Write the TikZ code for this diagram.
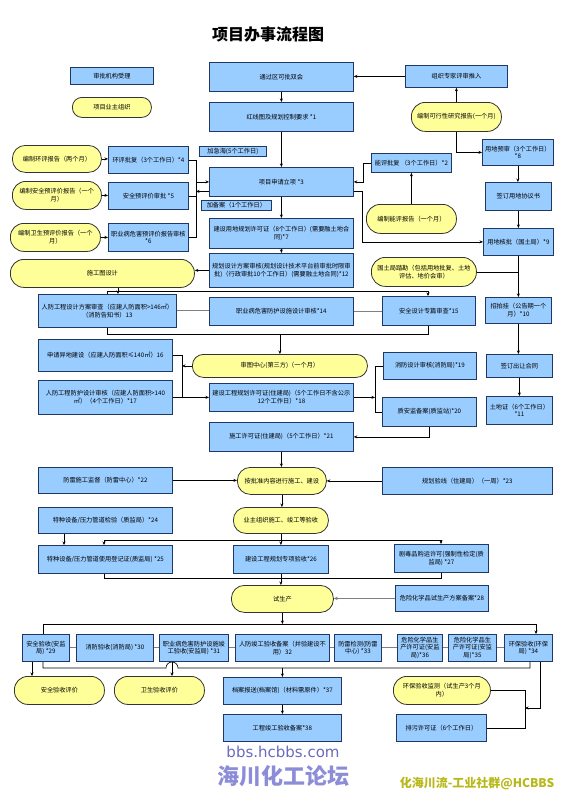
\documentclass[tikz,border=0pt]{standalone}
\usepackage{fontspec}
\setmainfont{Noto Sans CJK SC}
\newfontfamily\latinf{DejaVu Sans}
\XeTeXlinebreaklocale "zh"
\XeTeXlinebreakskip = 0pt plus 0.3pt
\usetikzlibrary{arrows.meta}
\definecolor{bfill}{HTML}{99CCFF}
\definecolor{bdr}{HTML}{1F3864}
\definecolor{yfill}{HTML}{FFFF99}
\definecolor{ydr}{HTML}{333333}
\definecolor{wm}{HTML}{8C8CD8}
\definecolor{wm2}{HTML}{6A6AC0}
\definecolor{wy}{HTML}{B8B818}
\tikzset{
  bb/.style={draw=bdr, fill=bfill, line width=0.8pt, align=flush center, inner sep=1pt,
    font=\fontsize{6.2}{7.6}\selectfont},
  yy/.style={draw=ydr, fill=yfill, line width=0.8pt, align=flush center, inner sep=1pt,
    font=\fontsize{6.2}{7.6}\selectfont},
  ln/.style={draw=black, line width=0.6pt},
  ar/.style={ln, -{Stealth[length=3.5pt,width=3pt]}},
  gl/.style={draw=gray, line width=0.9pt},
  gar/.style={gl, -{Stealth[length=4pt,width=3.5pt]}},
}
\newcommand{\BX}[6]{\node[bb,anchor=north west,minimum width=#4pt,minimum height=#5pt,text width=#4pt-5pt] (#1) at (#2,#3) {#6};}
\newcommand{\YX}[6]{\node[yy,anchor=north west,minimum width=#4pt,minimum height=#5pt,text width=#4pt-10pt,rounded corners=#5*0.48pt] (#1) at (#2,#3) {#6};}
\begin{document}
\begin{tikzpicture}[x=1pt,y=-1pt]
\useasboundingbox[fill=white] (0,0) rectangle (566,800);
\node[font=\fontsize{16}{18}\selectfont\bfseries] (title) at (268,34) {项目办事流程图};
% legend
\BX{leg1}{70}{67}{83}{17}{审批机构受理}
\YX{leg2}{72}{97}{79}{20}{项目业主组织}
% top
\BX{m1}{209}{62}{144}{29}{通过区可批双会}
\BX{m2}{209}{102}{144}{29}{红线图及规划控制要求 *1}
\BX{r0}{405}{65}{102}{22}{组织专家评审推入}
\YX{y0}{411}{102}{90}{29}{编制可行性研究报告(一个月)}
\BX{r8}{482}{139}{71}{26}{用地预审（3个工作日）*8}
% left EIA etc
\BX{l4}{108}{146}{80}{27}{环评批复（3个工作日）*4}
\YX{ly4}{12}{145}{89}{27}{编制环评报告（两个月）}
\BX{l5}{108}{182}{80}{27}{安全预评价审批 *5}
\YX{ly5}{12}{181}{89}{28}{编制安全预评价报告（一个月）}
\BX{l6}{108}{223}{80}{28}{职业病危害预评价报告审核 *6}
\YX{ly6}{10}{223}{90}{28}{编制卫生预评价报告（一个月）}
\BX{tag1}{199}{146}{67}{10}{加急海(5个工作日)}
\BX{m3}{209}{167}{144}{29}{项目申请立项 *3}
\BX{tag2}{201}{200}{70}{10}{加备案（1个工作日）}
\BX{m7}{209}{218}{144}{30}{建设用地规划许可证（8个工作日）(需要融土地合同)*7}
\BX{m12}{209}{253}{144}{34}{规划设计方案审核(规划设计技术平台前审批时限审批)（行政审批10个工作日）(需要融土地合同)*12}
\YX{ys}{10}{259}{184}{28}{施工图设计}
% right upper
\BX{r2}{371}{153}{80}{19}{能评批复 （3个工作日）*2}
\YX{yr2}{366}{204}{90}{29}{编制能评报告（一个月）}
\BX{r8b}{485}{182}{66}{28}{签订用地协议书}
\BX{r9}{483}{228}{70}{27}{用地核批（国土局）*9}
\YX{yr9}{371}{257}{105}{29}{国土局踏勘（包括用地批复、土地评估、地价会审）}
\BX{r10}{485}{297}{66}{26}{招拍挂（公告期一个月）*10}
% row 13-15
\BX{b13}{38}{294}{138}{33}{人防工程设计方案审查（应建人防面积>146㎡）（消防告知书）13}
\BX{b14}{209}{297}{144}{28}{职业病危害防护设施设计审核*14}
\BX{b15}{382}{296}{93}{29}{安全设计专篇审查*15}
% 16-21
\BX{b16}{38}{339}{134}{32}{申请异地建设（应建人防面积≤140㎡）16}
\BX{b17}{38}{380}{134}{34}{人防工程防护设计审核（应建人防面积>140㎡）（4个工作日）*17}
\YX{ysc}{192}{354}{175}{23}{审图中心(第三方)（一个月）}
\BX{m18}{209}{383}{144}{28}{建设工程规划许可证(住建局)（5个工作日不含公示12个工作日）*18}
\BX{b19}{383}{352}{93}{27}{消防设计审核(消防局)*19}
\BX{b20}{382}{397}{94}{29}{质安监备案(质监站)*20}
\BX{r11a}{486}{354}{66}{23}{签订出让合同}
\BX{r11}{486}{396}{66}{28}{土地证（6个工作日）*11}
\BX{m21}{209}{422}{144}{29}{施工许可证(住建局)（5个工作日）*21}
% construction
\BX{b22}{38}{467}{134}{26}{防雷施工监督（防雷中心）*22}
\YX{yb1}{237}{467}{89}{27}{按批准内容进行施工、建设}
\BX{b23}{382}{467}{170}{27}{规划验线（住建局）（一周）*23}
\YX{yc}{233}{507}{95}{26}{业主组织施工、竣工等验收}
\BX{b24}{38}{507}{134}{26}{特种设备/压力管道检验（质监局）*24}
\BX{b25}{38}{545}{134}{28}{特种设备/压力管道使用登记证(质监局) *25}
\BX{b26}{233}{545}{95}{28}{建设工程规划专项验收*26}
\BX{b27}{394}{544}{94}{28}{剧毒品购运许可(强制性检定(质监局) *27}
\YX{ytp}{231}{585}{102}{27}{试生产}
\BX{b28}{395}{585}{93}{26}{危险化学品试生产方案备案*28}
% acceptance row
\BX{b29}{22}{634}{47}{27}{安全验收(安监局) *29}
\BX{b30}{76}{634}{77}{27}{消防验收(消防局) *30}
\BX{b31}{159}{634}{69}{27}{职业病危害防护设施竣工验收(安监局) *31}
\BX{b32}{235}{634}{94}{27}{人防竣工验收备案（并验建设不用）32}
\BX{b33}{334}{634}{47}{27}{防雷检测(防雷中心) *33}
\BX{b36}{397}{634}{45}{27}{危险化学品生产许可证(安监局)*36}
\BX{b35}{448}{634}{48}{27}{危险化学品生产许可证(安监局)*35}
\BX{b34}{504}{634}{48}{27}{环保验收(环保局) *34}
\YX{ya}{14}{676}{90}{28}{安全验收评价}
\YX{yw}{114}{676}{90}{28}{卫生验收评价}
\BX{b37}{223}{677}{118}{27}{档案报送(档案馆)（材料需原件）*37}
\BX{b38}{223}{714}{118}{27}{工程竣工验收备案*38}
\YX{yh}{393}{676}{97}{28}{环保验收监测（试生产3个月内）}
\BX{b39}{396}{714}{90}{27}{排污许可证（6个工作日）}
% coordinates
\coordinate (kx1) at (196,0);
\coordinate (k1) at (107,291); \coordinate (k2) at (428,291);
\coordinate (k3) at (107,334); \coordinate (k4) at (428,334);
\coordinate (kc13) at (118,0);
\coordinate (k5) at (182,0);
\coordinate (k6) at (375,0);
\coordinate (k7) at (64,0);
\coordinate (k8) at (104,540); \coordinate (k9) at (441,540);
\coordinate (k10) at (104,578); \coordinate (k11) at (441,578);
\coordinate (k12) at (43,624); \coordinate (k13) at (536,624);
\coordinate (k14) at (43,668); \coordinate (k15) at (530,668);
\coordinate (kh1) at (166,668); \coordinate (kh2) at (178,668);
\coordinate (k16) at (32,0); \coordinate (k17) at (172,0);
\coordinate (k18) at (540,0); \coordinate (k20) at (525,708);
% connectors top
\draw[ar] (r0.west) -- (m1.east |- r0.west);
\draw[ar] (y0.north) -- (r0.south);
\draw[ar] (y0.south) |- (r8.west);
\draw[ar] (m1.south) -- (m2.north);
\draw[ar] (m2.south) -- (m3.north);
% left bracket
\draw[ln] (l4.east) -- (l4.east -| kx1) -- (l6.east -| kx1) -- (l6.east);
\draw[ln] (l5.east) -- (l5.east -| kx1);
\draw[ar] (m3.west -| kx1) -- (m3.west);
\draw[ar] ([yshift=-9.5pt]m3.west) -- ([yshift=-9.5pt]m3.west -| kx1);
\draw[ar] (ly4.east) -- (l4.west |- ly4.east);
\draw[ar] (ly5.east) -- (l5.west |- ly5.east);
\draw[ar] (ly6.east) -- (l6.west |- ly6.east);
% right upper
\draw[ar] (r2.west) -- ++(-8,0) |- (m3.east);
\draw[ar] ([yshift=-9.5pt]m3.east) -- ++(8,0) |- (r9.west);
\draw[ar] (yr2.north) -- (r2.south);
\draw[ar] (r8.south) -- (r8.south |- r8b.north);
\draw[ar] (r8b.south) -- (r8b.south |- r9.north);
\draw[ar] (r9.south) -- (r9.south |- r10.north);
\draw[ar] (r10.south) -- (r10.south |- r11a.north);
\draw[ar] (r11a.south) -- (r11a.south |- r11.north);
\draw[ln] (yr9.east) -- (r9.south |- yr9.east);
% main column
\draw[ar] (m3.south) -- (m7.north);
\draw[ar] (m7.south) -- (m12.north);
\draw[ar] (m12.west) -- (ys.east |- m12.west);
% row 13-15
\draw[ar] (ys.south -| kc13) -- (b13.north -| kc13);
\draw[ln] (b13.north -| k1) -- (k1) -- (k2);
\draw[ar] (k2) -- (b15.north -| k2);
\draw[gl] (b13.east) -- (b14.west |- b13.east);
\draw[gl] (b14.east) -- (b15.west |- b14.east);
\draw[ln] (b13.south -| k3) -- (k3) -- (k4) -- (b15.south -| k4);
\draw[ar] (ysc.north |- k3) -- (ysc.north);
% 16-18
\draw[ln] (b16.east) -- (b16.east -| k5) -- (b17.east -| k5) -- (b17.east);
\draw[ar] (ysc.west) -- (ysc.west -| k5);
\draw[ar] (b17.east -| k5) -- (m18.west);
\draw[ln] (b19.west) -- (b19.west -| k6) -- (b20.west -| k6) -- (b20.west);
\draw[ar] (m18.east) -- (m18.east -| k6);
\draw[ar] (b20.south) |- (m21.east);
% construction
\draw[ar] (m21.south) -- (m21.south |- yb1.north);
\draw[ar] (b22.east) -- (yb1.west |- b22.east);
\draw[ar] (b23.west) -- (yb1.east |- b23.west);
\draw[ar] (yb1.south) -- (yb1.south |- yc.north);
\draw[ar] (b24.south -| k7) -- (b25.north -| k7);
\draw[ln] (yc.south) -- (yc.south |- k8);
\draw[ln] (k8) -- (k9);
\draw[ar] (k8) -- (b25.north -| k8);
\draw[ar] (k9) -- (b27.north -| k9);
\draw[ar] (yc.south |- k8) -- (b26.north -| yc.south);
\draw[ln] (b25.south -| k10) -- (k10) -- (k11) -- (b27.south -| k11);
\draw[ar] (b26.south) -- (b26.south |- ytp.north);
\draw[gar] (b28.west) -- (ytp.east |- b28.west);
% acceptance
\draw[ar] (ytp.south) -- (ytp.south |- k12);
\draw[ln] (b29.north -| k12) -- (k12) -- (k13);
\draw[ar] (k13) -- (b34.north -| k13);
\draw[gl] (b29.east) -- (b30.west);
\draw[gl] (b30.east) -- (b31.west);
\draw[gl] (b31.east) -- (b32.west);
\draw[gl] (b32.east) -- (b33.west);
\draw[gl] (b33.east) -- (b36.west);
\draw[gl] (b36.east) -- (b35.west);
\draw[gl] (b35.east) -- (b34.west);
\draw[ln] (b29.south -| k14) -- (k14) -- (kh1) arc[start angle=180,end angle=360,radius=6] -- (k15) -- (b34.south -| k15);
\draw[ar] (b37.north |- k14) -- (b37.north);
\draw[ar] (b29.south -| k16) -- (ya.north -| k16);
\draw[ar] (b31.south -| k17) -- (yw.north -| k17);
\draw[ar] (b37.south) -- (b38.north);
\draw[ar] (b34.south -| k18) |- (k20);
\draw[ln] (yh.east) -- (yh.east -| k20) -- (b39.east -| k20) -- (b39.east);
% watermark
\node[font=\latinf\fontsize{15}{16}\selectfont, text=wm2] (wm1) at (283,752) {bbs.hcbbs.com};
\node[font=\fontsize{22}{24}\selectfont\bfseries, text=wm] (wmb) at (283,776) {海川化工论坛};
\node[font=\fontsize{12}{13}\selectfont\bfseries, text=wy] (wmc) at (477,784) {化海川流-工业社群@HCBBS};
\end{tikzpicture}
\end{document}
